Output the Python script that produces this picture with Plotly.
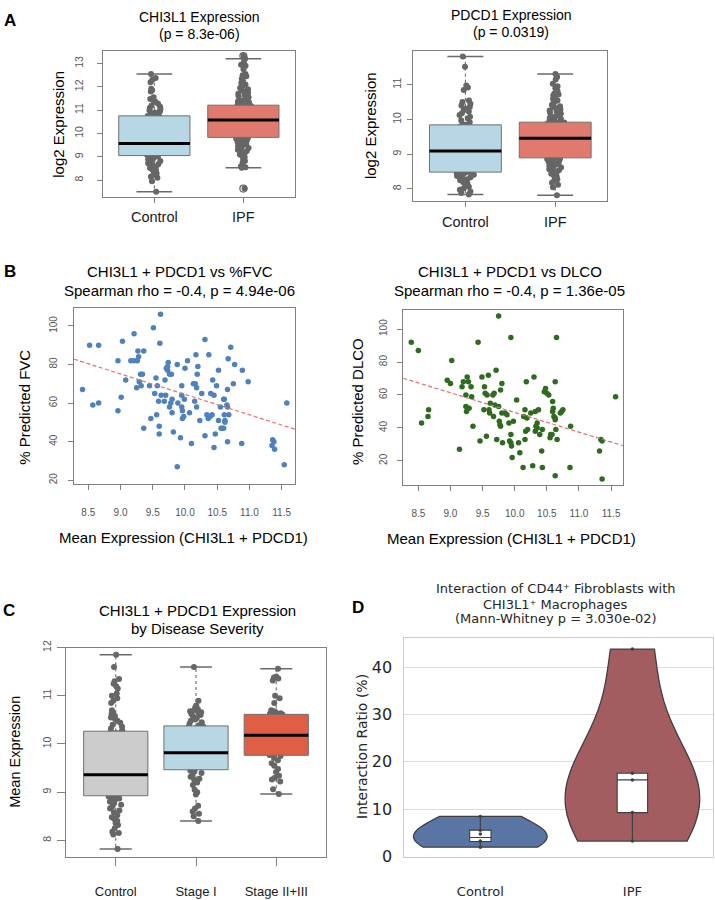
import numpy as np
import plotly.graph_objects as go

W, H = 715, 900

# ---------------- data ----------------
groups_a = ["Control", "IPF"]
chi3l1_control = [7.50, 7.95, 8.10, 8.15, 8.22, 8.30, 8.35, 8.40, 8.45, 8.52, 8.58, 8.62, 8.68, 8.72, 8.78, 8.82,
                  8.86, 8.90, 8.94, 8.98, 9.01, 9.04,
                  9.06, 9.08, 9.10, 9.13, 9.16, 9.18, 9.21, 9.24, 9.27, 9.30, 9.33, 9.35, 9.38, 9.40, 9.43, 9.45,
                  9.47, 9.50, 9.52, 9.54, 9.55, 9.56,
                  9.58, 9.62, 9.66, 9.70, 9.75, 9.80, 9.86, 9.92, 9.98, 10.05, 10.12, 10.20, 10.28, 10.35, 10.42,
                  10.48, 10.55, 10.60, 10.65, 10.70, 10.73, 10.75,
                  10.78, 10.82, 10.86, 10.90, 10.95, 11.00, 11.05, 11.10, 11.15, 11.20, 11.28, 11.35, 11.42, 11.48,
                  11.55, 11.80, 11.85, 11.92, 12.20, 12.30, 12.38, 12.55]
chi3l1_ipf = [7.64, 8.53, 8.55, 8.60, 8.75, 8.82, 8.90, 8.98, 9.05, 9.10, 9.15, 9.20, 9.25, 9.30, 9.35, 9.38,
              9.42, 9.45, 9.48, 9.52, 9.55, 9.58, 9.61, 9.64, 9.67, 9.70, 9.72, 9.75, 9.77, 9.79, 9.81, 9.82,
              9.84, 9.87, 9.90, 9.93, 9.96, 9.99, 10.02, 10.05, 10.08, 10.11, 10.14, 10.17, 10.20, 10.23, 10.26,
              10.29, 10.32, 10.35, 10.38, 10.40, 10.42, 10.44, 10.46, 10.48, 10.50, 10.52, 10.53, 10.54, 10.55,
              10.56, 10.57, 10.57,
              10.59, 10.60, 10.62, 10.64, 10.66, 10.68, 10.70, 10.72, 10.74, 10.76, 10.78, 10.80, 10.82, 10.84,
              10.86, 10.88, 10.90, 10.92, 10.94, 10.96, 10.98, 11.00, 11.03, 11.05, 11.08, 11.10, 11.12, 11.14,
              11.16, 11.18, 11.20, 11.21,
              11.23, 11.26, 11.30, 11.34, 11.38, 11.42, 11.46, 11.50, 11.55, 11.60, 11.65, 11.70, 11.75, 11.80,
              11.85, 11.90, 11.95, 12.00, 12.05, 12.10, 12.18, 12.25, 12.35, 12.45, 12.50, 12.55, 12.75, 12.90,
              12.95, 13.05, 13.20, 13.32]
pdcd1_control = [7.84, 7.88, 7.93, 7.98, 8.02, 8.06, 8.12, 8.16, 8.20, 8.25, 8.28, 8.31, 8.34, 8.37, 8.39, 8.41,
                 8.43, 8.45, 8.46, 8.47,
                 8.49, 8.51, 8.53, 8.56, 8.60, 8.65, 8.70, 8.75, 8.80, 8.85, 8.88, 8.92, 8.95, 8.98, 9.00, 9.02,
                 9.04, 9.06, 9.07, 9.08,
                 9.10, 9.13, 9.17, 9.22, 9.27, 9.32, 9.37, 9.42, 9.46, 9.50, 9.54, 9.57, 9.60, 9.64, 9.68, 9.72,
                 9.76, 9.80, 9.83, 9.84,
                 9.86, 9.92, 9.98, 10.03, 10.08, 10.13, 10.18, 10.23, 10.28, 10.31, 10.36, 10.40, 10.45, 10.50,
                 10.55, 10.85, 10.92, 10.98, 11.52, 11.81]
pdcd1_ipf = [7.82, 8.05, 8.12, 8.18, 8.24, 8.28, 8.32, 8.36, 8.40, 8.44, 8.48, 8.51, 8.54, 8.57, 8.60, 8.62,
             8.64, 8.66, 8.68, 8.70, 8.72, 8.74, 8.76, 8.78, 8.80, 8.81, 8.82, 8.84, 8.85, 8.86, 8.87, 8.88,
             8.90, 8.92, 8.94, 8.96, 8.98, 9.00, 9.02, 9.04, 9.06, 9.08, 9.10, 9.12, 9.14, 9.16, 9.18, 9.20,
             9.22, 9.24, 9.26, 9.28, 9.30, 9.32, 9.34, 9.36, 9.38, 9.40, 9.41, 9.42, 9.43, 9.44, 9.45, 9.45,
             9.47, 9.49, 9.51, 9.53, 9.55, 9.57, 9.59, 9.61, 9.63, 9.65, 9.67, 9.69, 9.71, 9.72, 9.74, 9.76,
             9.77, 9.79, 9.80, 9.82, 9.83, 9.84, 9.85, 9.86, 9.87, 9.88, 9.89, 9.90, 9.90, 9.91, 9.91, 9.92,
             9.93, 9.96, 9.99, 10.02, 10.05, 10.08, 10.11, 10.14, 10.17, 10.20, 10.23, 10.26, 10.29, 10.32,
             10.35, 10.38, 10.42, 10.46, 10.50, 10.55, 10.60, 10.65, 10.70, 10.72, 10.75, 10.82, 10.90, 10.96,
             11.03, 11.15, 11.22, 11.31]

fvc_expr = [8.41, 8.52, 8.57, 8.66, 8.66, 8.96, 8.96, 9.01, 9.03, 9.08, 9.16, 9.21, 9.21, 9.25, 9.26, 9.27,
            9.28, 9.29, 9.31, 9.32, 9.34, 9.36, 9.36, 9.45, 9.47, 9.51, 9.53, 9.55, 9.56, 9.57, 9.59, 9.60,
            9.60, 9.61, 9.62, 9.63, 9.68, 9.69, 9.70, 9.71, 9.73, 9.73, 9.74, 9.76, 9.76, 9.78, 9.79, 9.80,
            9.80, 9.82, 9.88, 9.88, 9.89, 9.93, 9.95, 9.95, 9.95, 9.96, 9.96, 9.98, 9.99, 10.00, 10.04, 10.07,
            10.10, 10.13, 10.15, 10.16, 10.17, 10.18, 10.18, 10.19, 10.20, 10.23, 10.26, 10.31, 10.31, 10.34,
            10.36, 10.37, 10.39, 10.40, 10.42, 10.43, 10.45, 10.45, 10.47, 10.49, 10.52, 10.52, 10.55, 10.56,
            10.57, 10.60, 10.60, 10.61, 10.61, 10.62, 10.62, 10.65, 10.66, 10.66, 10.66, 10.67, 10.68, 10.71,
            10.75, 10.77, 10.88, 10.89, 10.98, 11.35, 11.36, 11.38, 11.39, 11.54, 11.58]
fvc_pct = [67, 90, 59, 60, 90, 82, 56, 63, 92, 72, 82, 96, 82, 68, 82, 87,
           84, 71, 75, 69, 75, 87, 47, 69, 52, 99, 65, 73, 54, 69, 61, 48,
           44, 91, 106, 64, 61, 72, 64, 78, 79, 77, 81, 75, 58, 60, 75, 62,
           55, 45, 80, 27, 60, 42, 64, 69, 58, 56, 52, 53, 62, 78, 82, 55,
           39, 70, 61, 70, 85, 58, 68, 75, 79, 51, 65, 93, 43, 54,
           52, 85, 53, 65, 54, 72, 64, 37, 44, 69, 51, 77, 58, 47,
           47, 47, 62, 62, 54, 51, 50, 59, 58, 67, 40, 83, 54, 89,
           70, 80, 39, 77, 71, 38, 41, 40, 36, 28, 60]
fvc_fit = [170.4, -10.59]      # intercept, slope of dashed trend line

dlco_expr = [8.39, 8.50, 8.55, 8.65, 8.66, 8.95, 9.00, 9.02, 9.14, 9.18, 9.20, 9.24, 9.24, 9.25, 9.26, 9.28,
             9.29, 9.32, 9.33, 9.35, 9.43, 9.46, 9.49, 9.52, 9.53, 9.54, 9.56, 9.57, 9.59, 9.60, 9.61, 9.62,
             9.66, 9.67, 9.68, 9.69, 9.71, 9.72, 9.75, 9.75, 9.76, 9.77, 9.78, 9.78, 9.80, 9.80, 9.81, 9.85,
             9.88, 9.91, 9.92, 9.94, 9.94, 9.94, 9.95, 9.96, 9.98, 10.03, 10.06, 10.08, 10.13, 10.14, 10.16,
             10.16, 10.17, 10.18, 10.19, 10.20, 10.25, 10.28, 10.30, 10.32, 10.32, 10.33, 10.35, 10.35, 10.37,
             10.39, 10.42, 10.43, 10.43, 10.46, 10.48, 10.50, 10.53, 10.55, 10.56, 10.58, 10.59, 10.59, 10.60,
             10.61, 10.63, 10.63, 10.64, 10.63, 10.63, 10.65, 10.66, 10.71, 10.73, 10.75, 10.87, 10.86, 11.32,
             11.34, 11.36, 11.36, 11.57]
dlco_pct = [92, 87, 43, 47, 51, 69, 67, 81, 27, 65, 68, 60, 53, 50, 71, 68,
            52, 65, 59, 41, 92, 32, 71, 51, 65, 61, 35, 60, 72, 51, 49, 55,
            60, 47, 61, 54, 75, 33, 108, 53, 44, 42, 41, 63, 67, 49, 31, 49,
            48, 43, 32, 95, 36, 31, 29, 22, 44, 57, 31, 25, 16, 47, 33,
            51, 38, 68, 46, 39, 49, 17, 71, 38, 50, 41, 43, 40, 51,
            36, 26, 39, 16, 62, 64, 61, 60, 34, 36, 36, 56, 50, 52,
            47, 45, 46, 39, 68, 11, 95, 33, 49, 50, 51, 41, 16, 26,
            33, 32, 9, 59]
dlco_fit = [169.1, -11.97]     # intercept, slope of dashed trend line

groups_c = ["Control", "Stage I", "Stage II+III"]
sev_control = [7.82, 8.12, 8.15, 8.18, 8.25, 8.32, 8.36, 8.40, 8.45, 8.48, 8.52, 8.58, 8.62, 8.66, 8.70, 8.74,
               8.77, 8.80, 8.83, 8.85, 8.87, 8.89, 8.90, 8.91,
               8.93, 8.95, 8.97, 8.99, 9.01, 9.03, 9.05, 9.07, 9.09, 9.11, 9.13, 9.15, 9.17, 9.19, 9.21, 9.23,
               9.25, 9.27, 9.29, 9.31, 9.32, 9.33, 9.34, 9.35,
               9.37, 9.40, 9.44, 9.48, 9.52, 9.56, 9.60, 9.65, 9.70, 9.75, 9.80, 9.84, 9.86, 9.90, 9.95, 10.00,
               10.05, 10.10, 10.14, 10.18, 10.21, 10.23, 10.25, 10.26,
               10.28, 10.32, 10.36, 10.40, 10.44, 10.48, 10.52, 10.55, 10.58, 10.62, 10.66, 10.70, 10.85, 10.90,
               10.95, 11.00, 11.05, 11.15, 11.20, 11.25, 11.30, 11.35, 11.60, 11.85]
sev_stage1 = [8.40, 8.50, 8.55, 8.60, 8.66, 8.72, 8.95, 9.00, 9.05, 9.15, 9.20, 9.25, 9.28, 9.32, 9.36, 9.40,
              9.43, 9.45,
              9.47, 9.50, 9.53, 9.56, 9.58, 9.61, 9.63, 9.65, 9.67, 9.69, 9.71, 9.73, 9.75, 9.77, 9.78, 9.79,
              9.80, 9.81,
              9.83, 9.86, 9.90, 9.94, 9.98, 10.02, 10.06, 10.10, 10.14, 10.18, 10.22, 10.25, 10.28, 10.31, 10.33,
              10.35, 10.36, 10.37,
              10.39, 10.42, 10.45, 10.48, 10.51, 10.54, 10.57, 10.60, 10.62, 10.64, 10.66, 10.68, 10.70, 10.72,
              10.75, 10.80, 10.90, 11.60]
sev_stage23 = [8.96, 9.06, 9.22, 9.26, 9.30, 9.34, 9.42, 9.48, 9.55, 9.60, 9.66, 9.71, 9.75,
               9.77, 9.80, 9.83, 9.86, 9.90, 9.95, 10.00, 10.05, 10.09, 10.12, 10.14, 10.16, 10.17,
               10.19, 10.22, 10.26, 10.30, 10.34, 10.38, 10.42, 10.46, 10.50, 10.54, 10.57, 10.60, 10.61,
               10.63, 10.64, 10.66, 10.68, 10.70, 10.85, 10.95, 11.00, 11.32, 11.36, 11.38, 11.40, 11.56]

groups_d = ["Control", "IPF"]
ratio_control = [2.0, 3.2, 3.3, 4.8, 5.6, 8.5]
ratio_ipf = [3.3, 9.3, 16.2, 17.6, 43.8]

# ---------------- style ----------------
RFONT = "Liberation Sans, Arial, sans-serif"
SFONT = "DejaVu Sans, sans-serif"
FRAME = "#808080"
PT = "#666666"


def dom_x(a, b):
    return [a / W, b / W]


def dom_y(top, bottom):
    return [1 - bottom / H, 1 - top / H]


traces = []


def r_boxplot(values_list, fills, xa, ya, box_w=0.8, jitter=0.28, pt_size=6):
    out_tr = []
    for i, (vals, fill) in enumerate(zip(values_list, fills)):
        pos = i + 1
        v = np.asarray(vals, float)
        q1, med, q3 = np.percentile(v, [25, 50, 75])
        iqr = q3 - q1
        lo = v[v >= q1 - 1.5 * iqr].min()
        hi = v[v <= q3 + 1.5 * iqr].max()
        outl = v[(v < lo) | (v > hi)]
        hw = box_w / 2
        common = dict(xaxis=xa, yaxis=ya, hoverinfo="skip", showlegend=False)
        out_tr.append(go.Scatter(x=[pos, pos, None, pos, pos], y=[q3, hi, None, q1, lo], mode="lines",
                                 line=dict(color="#6a6a6a", width=1.1, dash="3px,3px"), **common))
        out_tr.append(go.Scatter(x=[pos - hw / 2, pos + hw / 2, None, pos - hw / 2, pos + hw / 2],
                                 y=[hi, hi, None, lo, lo], mode="lines",
                                 line=dict(color="#6a6a6a", width=1.5), **common))
        out_tr.append(go.Scatter(x=[pos - hw, pos + hw, pos + hw, pos - hw, pos - hw],
                                 y=[q1, q1, q3, q3, q1], mode="lines", fill="toself", fillcolor=fill,
                                 line=dict(color="#707070", width=1), **common))
        out_tr.append(go.Scatter(x=[pos - hw, pos + hw], y=[med, med], mode="lines",
                                 line=dict(color="black", width=3), **common))
        if len(outl):
            out_tr.append(go.Scatter(x=[pos] * len(outl), y=outl, mode="markers",
                                     marker=dict(symbol="circle-open", size=7, color=PT, line=dict(width=1.2)),
                                     **common))
        out_tr.append(go.Box(y=v, x0=pos, width=box_w, boxpoints="all", jitter=jitter, pointpos=0,
                             fillcolor="rgba(0,0,0,0)", line=dict(width=0, color="rgba(0,0,0,0)"),
                             whiskerwidth=0, marker=dict(color=PT, size=pt_size), **common))
    return out_tr


# Panel A
traces += r_boxplot([chi3l1_control, chi3l1_ipf], ["#b7d7e5", "#e07a6e"], "x", "y")
traces += r_boxplot([pdcd1_control, pdcd1_ipf], ["#b7d7e5", "#e07a6e"], "x2", "y2")

# Panel B
traces.append(go.Scatter(x=fvc_expr, y=fvc_pct, mode="markers", marker=dict(color="#4f81bd", size=5.5),
                         xaxis="x3", yaxis="y3", hoverinfo="skip", showlegend=False))
bx3 = np.array([8.278, 11.707])
traces.append(go.Scatter(x=bx3, y=fvc_fit[0] + fvc_fit[1] * bx3, mode="lines",
                         line=dict(color="#e8706f", width=1.2, dash="4px,2.5px"),
                         xaxis="x3", yaxis="y3", hoverinfo="skip", showlegend=False))
traces.append(go.Scatter(x=dlco_expr, y=dlco_pct, mode="markers", marker=dict(color="#2f6b1f", size=5.5),
                         xaxis="x4", yaxis="y4", hoverinfo="skip", showlegend=False))
bx4 = np.array([8.266, 11.69])
traces.append(go.Scatter(x=bx4, y=dlco_fit[0] + dlco_fit[1] * bx4, mode="lines",
                         line=dict(color="#d9706f", width=1.2, dash="4px,2.5px"),
                         xaxis="x4", yaxis="y4", hoverinfo="skip", showlegend=False))

# Panel C
traces += r_boxplot([sev_control, sev_stage1, sev_stage23], ["#cccccc", "#b7d7e5", "#e05e44"], "x5", "y5")

# Panel D
for pos, vals, col, bw, boxw in [(0, ratio_control, "#5875a4", 3.5, 0.14), (1, ratio_ipf, "#a35c5f", 12, 0.2)]:
    traces.append(go.Violin(y=vals, x0=pos, width=0.88, spanmode="hard", bandwidth=bw, scalemode="width",
                            fillcolor=col, line=dict(color="#404040", width=1.3), points=False,
                            box_visible=False, meanline_visible=False, opacity=1,
                            xaxis="x6", yaxis="y6", hoverinfo="skip", showlegend=False))
    traces.append(go.Box(y=vals, x0=pos, width=boxw, quartilemethod="inclusive", boxpoints="all", jitter=0,
                         pointpos=0, fillcolor="white", line=dict(color="#404040", width=1.1), whiskerwidth=0,
                         marker=dict(color="#404040", size=3.5), xaxis="x6", yaxis="y6",
                         hoverinfo="skip", showlegend=False))

fig = go.Figure(traces)


def r_ax(dom, rng, tickvals, ticktext, anchor, fs, color, standoff, ticklen=5, angle=0):
    return dict(domain=dom, range=rng, anchor=anchor, type="linear", tickmode="array",
                tickvals=tickvals, ticktext=ticktext, ticks="outside", ticklen=ticklen, tickwidth=1,
                tickcolor=FRAME, showline=True, mirror=True, linecolor=FRAME, linewidth=1,
                showgrid=False, zeroline=False, tickangle=angle,
                tickfont=dict(family=RFONT, size=fs, color=color), ticklabelstandoff=standoff,
                fixedrange=True)


ya_ticks = [8, 9, 10, 11, 12, 13]
yb_ticks = [8, 9, 10, 11]
bx_ticks = [8.5, 9.0, 9.5, 10.0, 10.5, 11.0, 11.5]
by_ticks = [20, 40, 60, 80, 100]
yc_ticks = [8, 9, 10, 11, 12]

layout = dict(
    width=W, height=H, margin=dict(l=0, r=0, t=0, b=0),
    paper_bgcolor="white", plot_bgcolor="white", showlegend=False,
    boxmode="overlay", violinmode="overlay",
    xaxis=r_ax(dom_x(102.7, 295), [0.42, 2.58], [1, 2], groups_a, "y", 14.5, "#1a1a1a", 1),
    yaxis=r_ax(dom_y(44.3, 193.3), [7.26, 13.52], ya_ticks, [str(t) for t in ya_ticks], "x", 10.5,
               "#555555", 10, angle=-90),
    xaxis2=r_ax(dom_x(413.3, 607.3), [0.42, 2.58], [1, 2], groups_a, "y2", 14.5, "#1a1a1a", 3),
    yaxis2=r_ax(dom_y(44.3, 196.7), [7.66, 11.96], yb_ticks, [str(t) for t in yb_ticks], "x2", 10.5,
                "#555555", 2, angle=-90),
    xaxis3=r_ax(dom_x(74, 295), [8.278, 11.707], bx_ticks, [f"{t:.1f}" for t in bx_ticks], "y3", 10,
                "#555555", 14),
    yaxis3=r_ax(dom_y(305.7, 486), [17.9, 109.5], by_ticks, [str(t) for t in by_ticks], "x3", 10,
                "#555555", 7, angle=-90),
    xaxis4=r_ax(dom_x(403.3, 623.3), [8.266, 11.69], bx_ticks, [f"{t:.1f}" for t in bx_ticks], "y4", 10,
                "#555555", 14),
    yaxis4=r_ax(dom_y(307.7, 486.7), [5.36, 111.9], by_ticks, [str(t) for t in by_ticks], "x4", 10,
                "#555555", 6, angle=-90),
    xaxis5=r_ax(dom_x(66, 326), [0.38, 3.62], [1, 2, 3], groups_c, "y5", 13, "#1a1a1a", 15, ticklen=8),
    yaxis5=r_ax(dom_y(652.7, 866), [7.66, 12.0], yc_ticks, [str(t) for t in yc_ticks], "x5", 10.5,
                "#555555", 2, ticklen=8, angle=-90),
    xaxis6=dict(domain=dom_x(404.3, 713), range=[-0.5, 1.53], anchor="y6", type="linear", tickmode="array",
                tickvals=[0, 1], ticktext=groups_d, ticks="", showline=True, mirror=True, linecolor="#cccccc",
                linewidth=1, showgrid=False, zeroline=False,
                tickfont=dict(family=SFONT, size=13, color="#262626"), ticklabelstandoff=23, fixedrange=True),
    yaxis6=dict(domain=dom_y(643, 866), range=[0, 46.1], anchor="x6", type="linear", tickmode="array",
                tickvals=[0, 10, 20, 30, 40], ticks="", showline=True, mirror=True, linecolor="#cccccc",
                linewidth=1, showgrid=True, gridcolor="#dddddd", gridwidth=1, zeroline=False,
                tickfont=dict(family=SFONT, size=16, color="#262626"), ticklabelstandoff=8, fixedrange=True),
)
fig.update_layout(**layout)


def ann(text, x, y, size, family=RFONT, color="black", angle=0):
    return dict(text=text, x=x / W, y=1 - y / H, xref="paper", yref="paper", xanchor="center",
                yanchor="middle", showarrow=False, textangle=angle,
                font=dict(family=family, size=size, color=color))


annotations = [
    ann("<b>A</b>", 9.5, 12.5, 17), ann("<b>B</b>", 9.5, 269, 17), ann("<b>C</b>", 9, 615, 17),
    ann("<b>D</b>", 358, 612, 17),
    ann("CHI3L1 Expression", 199, 9.5, 14), ann("(p = 8.3e-06)", 199, 26.5, 14),
    ann("PDCD1 Expression", 511, 7.5, 14), ann("(p = 0.0319)", 511, 24.5, 14),
    ann("log2 Expression", 58.3, 118.8, 15, angle=-90), ann("log2 Expression", 370, 120.5, 15, angle=-90),
    ann("CHI3L1 + PDCD1 vs %FVC", 179.5, 268.5, 15), ann("Spearman rho = -0.4, p = 4.94e-06", 179.5, 288, 15),
    ann("CHI3L1 + PDCD1 vs DLCO", 509.7, 268.5, 15), ann("Spearman rho = -0.4, p = 1.36e-05", 509.7, 288, 15),
    ann("Mean Expression (CHI3L1 + PDCD1)", 183.3, 540, 15),
    ann("Mean Expression (CHI3L1 + PDCD1)", 511.7, 541.7, 15),
    ann("% Predicted FVC", 25, 408, 15, angle=-90), ann("% Predicted DLCO", 358, 402, 15, angle=-90),
    ann("CHI3L1 + PDCD1 Expression", 197, 615, 15), ann("by Disease Severity", 197, 633.5, 15),
    ann("Mean Expression", 15, 759, 14.5, angle=-90),
    ann("Interaction of CD44⁺ Fibroblasts with", 555.5, 592, 13, SFONT, "#262626"),
    ann("CHI3L1⁺ Macrophages", 555.5, 608.3, 13, SFONT, "#262626"),
    ann("(Mann-Whitney p = 3.030e-02)", 555.5, 623.3, 13, SFONT, "#262626"),
    ann("Interaction Ratio (%)", 362, 754, 14, SFONT, "#262626", angle=-90),
]
fig.update_layout(annotations=annotations)

fig.write_html("out.html")
